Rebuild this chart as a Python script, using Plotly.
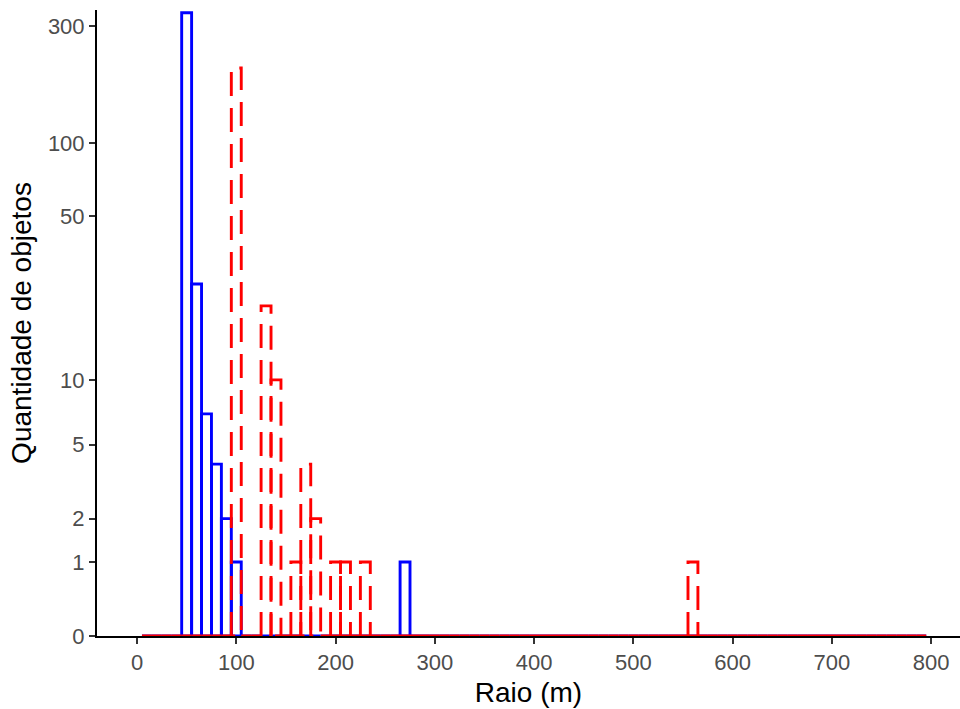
import numpy as np
import plotly.graph_objects as go

# ---- data ----
bin_width = 10
bin_start = 5
bin_end = 795

blue_centers = [50, 60, 70, 80, 90, 100, 270]
blue_counts = [341, 26, 7, 4, 2, 1, 1]

red_centers = [100, 130, 140, 160, 170, 180, 200, 210, 230, 560]
red_counts = [203, 21, 10, 1, 4, 2, 1, 1, 1, 1]

y_ticks = [0, 1, 2, 5, 10, 50, 100, 300]
x_ticks = [0, 100, 200, 300, 400, 500, 600, 700, 800]

x_title = "Raio (m)"
y_title = "Quantidade de objetos"


def full_counts(centers, counts):
    all_centers = np.arange(bin_start + bin_width / 2, bin_end, bin_width)
    lookup = dict(zip(centers, counts))
    return all_centers, [lookup.get(int(round(c)), 0) for c in all_centers]


def outline(centers, counts):
    xs, ys = [], []
    for c, n in zip(centers, counts):
        x0, x1 = c - bin_width / 2, c + bin_width / 2
        h = np.log1p(n)
        xs += [x0, x0, x1, x1, x0, None]
        ys += [0, h, h, 0, 0, None]
    return xs, ys


fig = go.Figure()

bc, bn = full_counts(blue_centers, blue_counts)
bx, by = outline(bc, bn)
fig.add_trace(go.Scatter(x=bx, y=by, mode="lines",
                         line=dict(color="#0000FF", width=2.9),
                         hoverinfo="skip", showlegend=False))

rc, rn = full_counts(red_centers, red_counts)
rx, ry = outline(rc, rn)
fig.add_trace(go.Scatter(x=rx, y=ry, mode="lines",
                         line=dict(color="#FF0000", width=2.9, dash="24px,12px"),
                         hoverinfo="skip", showlegend=False))

font_family = "Liberation Sans, Arial, sans-serif"

fig.update_layout(
    width=960, height=709,
    margin=dict(l=97, r=0, t=10, b=73),
    plot_bgcolor="white", paper_bgcolor="white",
    font=dict(family=font_family, color="black"),
    xaxis=dict(
        range=[-40.3, 829],
        tickvals=x_ticks, ticktext=[str(v) for v in x_ticks],
        showgrid=False, zeroline=False,
        showline=True, linecolor="black", linewidth=2,
        ticks="outside", ticklen=6, tickwidth=1.6, tickcolor="#333333",
        tickfont=dict(size=22, color="#4D4D4D"),
        title=dict(text=x_title, font=dict(size=28, color="black"), standoff=8),
        layer="below traces",
    ),
    yaxis=dict(
        range=[0, 5.861],
        tickvals=[float(np.log1p(v)) for v in y_ticks],
        ticktext=[str(v) for v in y_ticks],
        showgrid=False, zeroline=False,
        showline=True, linecolor="black", linewidth=2,
        ticks="outside", ticklen=6, tickwidth=1.6, tickcolor="#333333",
        tickfont=dict(size=22, color="#4D4D4D"),
        title=dict(text=y_title, font=dict(size=28, color="black"), standoff=8),
        layer="below traces",
    ),
)

fig.write_html("out.html")
